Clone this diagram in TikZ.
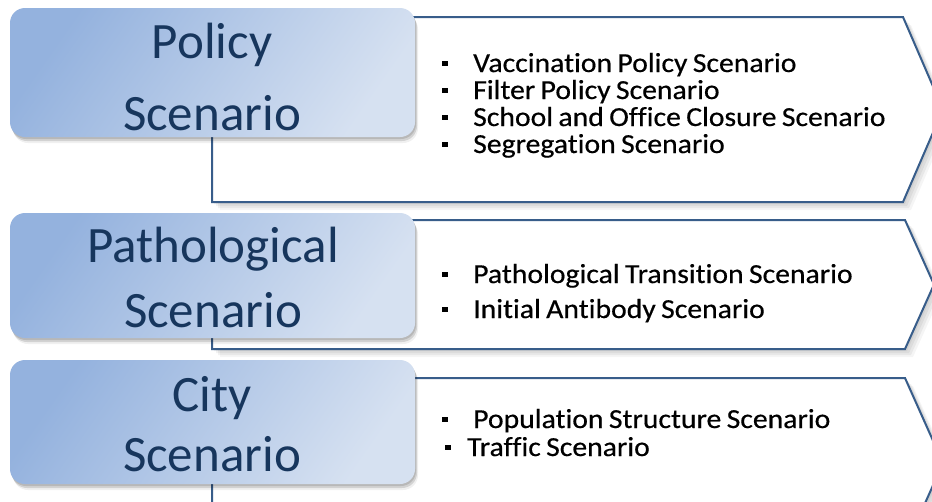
\documentclass[tikz,border=0pt]{standalone}
\usepackage{fontspec}
\setmainfont[Ligatures=NoCommon]{Carlito}
\newfontfamily\itemfont[Ligatures=NoCommon,WordSpace=0.8,FakeBold=0.45,FakeStretch=1.08]{Carlito}
\usetikzlibrary{shadows}
\definecolor{boxdark}{RGB}{148,178,222}
\definecolor{boxlight}{RGB}{214,225,241}
\definecolor{navy}{RGB}{23,54,93}
\definecolor{edgeblue}{RGB}{56,93,138}
\newcommand\mybul[1]{\makebox[#1][l]{\raisebox{6pt}{\rule{5.5pt}{5.5pt}}}}
\begin{document}
\begin{tikzpicture}[x=1pt,y=-1pt,
  softshadow/.style={
    general shadow={fill=black,opacity=0.05,shadow xshift=2pt,shadow yshift=-2pt},
    general shadow={fill=black,opacity=0.05,shadow xshift=4pt,shadow yshift=-4pt},
    general shadow={fill=black,opacity=0.05,shadow xshift=6pt,shadow yshift=-6pt},
    general shadow={fill=black,opacity=0.04,shadow xshift=8pt,shadow yshift=-8pt}},
  chev/.style={draw=edgeblue,line width=2pt,fill=white,line join=miter,softshadow},
  bluebox/.style={rounded corners=15pt,minimum width=405pt,inner sep=0pt,
    top color=boxdark,bottom color=boxlight,shading angle=55,
    general shadow={fill=black,opacity=0.12,shadow xshift=1pt,shadow yshift=-2pt},
    general shadow={fill=black,opacity=0.12,shadow xshift=2pt,shadow yshift=-4pt},
    general shadow={fill=black,opacity=0.06,shadow xshift=3pt,shadow yshift=-6pt}},
  head/.style={anchor=base,text=navy,font=\fontsize{51}{51}\selectfont,inner sep=0pt},
  item/.style={anchor=base west,text=black,font=\itemfont\fontsize{27.5}{27.5}\selectfont,inner sep=0pt}
]
\useasboundingbox (0,0) rectangle (932,501);
\clip (0,0) rectangle (932,501);
\fill[white] (0,0) rectangle (932,501);

% chevron arrows
\draw[chev] (212,17) -- (903,17) -- (943,109.5) -- (903,202) -- (212,202) -- cycle;
\draw[chev] (212,220) -- (905,220) -- (934,284.5) -- (905,349) -- (212,349) -- cycle;
\draw[chev] (212,378) -- (905,378) -- (943,463) -- (905,548) -- (212,548) -- cycle;

% blue boxes
\node[bluebox,minimum height=129pt] (pol) at (212.5,72.5) {};
\node[bluebox,minimum height=125pt] (pat) at (212.5,275.5) {};
\node[bluebox,minimum height=124pt] (cit) at (212.5,422) {};

\node[head] (pol1) at (212,58) {Policy};
\node[head] (pol2) at (212,130) {Scenario};
\node[head] (pat1) at (213,262) {Pathological};
\node[head] (pat2) at (213,327) {Scenario};
\node[head] (cit1) at (212,411) {City};
\node[head] (cit2) at (212,471) {Scenario};

% items
\node[item] (i1) at (442,72) {\mybul{31pt}Vaccination Policy Scenario};
\node[item] (i2) at (442,99) {\mybul{31pt}Filter Policy Scenario};
\node[item] (i3) at (442,126) {\mybul{31pt}School and Office Closure Scenario};
\node[item] (i4) at (442,153) {\mybul{31pt}Segregation Scenario};
\node[item] (i5) at (442,283) {\mybul{31pt}Pathological Transition Scenario};
\node[item] (i6) at (442,318) {\mybul{31pt}Initial Antibody Scenario};
\node[item] (i7) at (442,428) {\mybul{31pt}Population Structure Scenario};
\node[item] (i8) at (445,456) {\mybul{22pt}Traffic Scenario};
\end{tikzpicture}
\end{document}
